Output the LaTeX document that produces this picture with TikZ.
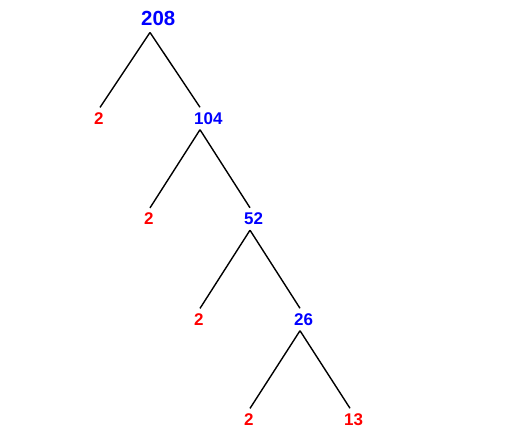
\documentclass[tikz,border=0pt]{standalone}
\usepackage{fontspec}
\setmainfont{Liberation Sans}
\usepackage{tikz}
\usetikzlibrary{calc}

\begin{document}
\begin{tikzpicture}[x=1bp,y=-1bp,
  comp/.style={text=blue,anchor=west,inner sep=0pt,font=\bfseries\fontsize{17}{17}\selectfont},
  prime/.style={text=red,anchor=west,inner sep=0pt,font=\bfseries\fontsize{17}{17}\selectfont},
  branch/.style={line width=1.4bp}]

\useasboundingbox (0,0) rectangle (525,445);

\node (n208) [comp,font=\bfseries\fontsize{20.5}{21}\selectfont] at (141,18) {208};
\node (p1) [prime] at (94,118.5) {2};
\node (n104) [comp] at (194,118.5) {104};
\node (p2) [prime] at (144,219) {2};
\node (n52) [comp] at (244,219) {52};
\node (p3) [prime] at (194,319.5) {2};
\node (n26) [comp] at (294,319.5) {26};
\node (p4) [prime] at (244,419.5) {2};
\node (p5) [prime] at (344,419.5) {13};

\foreach \x in {p1, n104} \draw [branch] ($(n208.south west)+(9,7)$) -- ($(\x.north west)+(6,-5)$);
\foreach \x/\y in {n104/p2, n104/n52, n52/p3, n52/n26, n26/p4, n26/p5}
  \draw [branch] ($(\x.south west)+(6,5)$) -- ($(\y.north west)+(6,-5)$);

\end{tikzpicture}
\end{document}
